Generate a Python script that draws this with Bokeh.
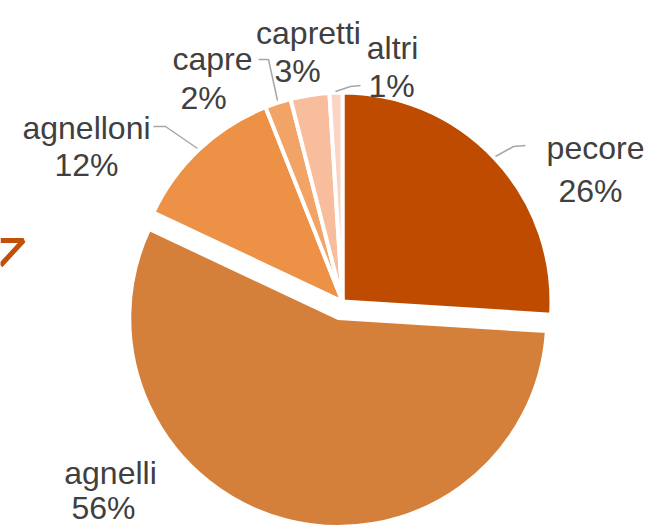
import math
from bokeh.plotting import figure
from bokeh.models import Range1d, ColumnDataSource
from bokeh.core.properties import value
from bokeh.embed import file_html
from bokeh.resources import INLINE

# ---- data ----
names = ["pecore", "agnelli", "agnelloni", "capre", "capretti", "altri"]
shares = [26, 56, 12, 2, 3, 1]
colors = ["#BE4B00", "#D4803A", "#EC9145", "#F2A466", "#F8BD9C", "#FAD5C4"]
exploded = [0, 1, 0, 0, 0, 0]

# ---- layout (reference pixel coordinates) ----
W, H = 667, 527
cx, cy, R = 342, 301, 209
EXPLODE_PX = 17
FONT = value("Liberation Sans")
FS = "32px"
TXT = "#404040"

# label anchor positions: (x_name, baseline_name, x_pct, baseline_pct)
label_pos = {
    "pecore":    (595, 147, 590, 190),
    "agnelli":   (110, 472, 103, 507),
    "agnelloni": (86, 127, 86, 164),
    "capre":     (212, 58, 203, 97),
    "capretti":  (308, 32, 297, 70),
    "altri":     (392, 47, 391, 85),
}
leaders = {
    "pecore":    [(495, 156), (513, 146), (525, 145)],
    "agnelloni": [(153, 126), (165, 126), (197, 148)],
    "capre":     [(258, 59), (268, 59), (277, 100)],
    "altri":     [(335, 91), (350, 86), (360, 85)],
}

p = figure(width=W, height=H, output_backend="svg", toolbar_location=None,
           x_range=Range1d(0, W), y_range=Range1d(-H, 0),
           min_border=0)
p.axis.visible = False
p.grid.visible = False
p.outline_line_color = None
p.background_fill_color = "white"

total = float(sum(shares))
xs, ys, starts, ends = [], [], [], []
acc = 0.0
for s, e in zip(shares, exploded):
    f0 = acc / total
    f1 = (acc + s) / total
    acc += s
    mid = (f0 + f1) / 2 * 2 * math.pi
    dx = EXPLODE_PX * e * math.sin(mid)
    dy = EXPLODE_PX * e * math.cos(mid)
    xs.append(cx + dx)
    ys.append(-cy + dy)
    starts.append(math.pi / 2 - 2 * math.pi * f0)
    ends.append(math.pi / 2 - 2 * math.pi * f1)

src = ColumnDataSource(dict(x=xs, y=ys, start=starts, end=ends, color=colors, name=names))
p.wedge(x="x", y="y", radius=R, start_angle="start", end_angle="end",
        direction="clock", fill_color="color", line_color="white", line_width=4,
        source=src)

# leader lines
for n, pts in leaders.items():
    p.line([q[0] for q in pts], [-q[1] for q in pts], line_color="#A6A6A6", line_width=1.5)

# labels
tx, ty, tt = [], [], []
for n, s in zip(names, shares):
    xn, yn, xp, yp = label_pos[n]
    tx += [xn, xp]
    ty += [-yn, -yp]
    tt += [n, f"{s}%"]
p.text(x=tx, y=ty, text=tt, text_font=FONT, text_font_size=FS, text_color=TXT,
       text_align="center", text_baseline="alphabetic")

# decorative arrow fragment at the left edge
p.line([0, 23, 0], [-240, -240, -265], line_color="#C0500A", line_width=5)

open("out.html", "w").write(file_html(p, INLINE))
